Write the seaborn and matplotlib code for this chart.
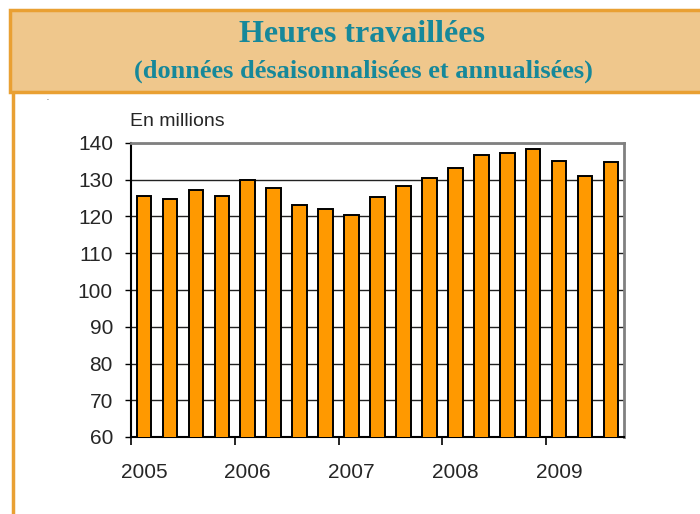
import matplotlib
matplotlib.use("Agg")
import matplotlib.pyplot as plt
from matplotlib.patches import Rectangle
from matplotlib.lines import Line2D
import seaborn as sns
import pandas as pd

quarters = ["2005T1", "2005T2", "2005T3", "2005T4",
            "2006T1", "2006T2", "2006T3", "2006T4",
            "2007T1", "2007T2", "2007T3", "2007T4",
            "2008T1", "2008T2", "2008T3", "2008T4",
            "2009T1", "2009T2", "2009T3"]
heures = [125.7, 124.7, 127.3, 125.7,
          129.9, 127.8, 123.1, 122.1,
          120.4, 125.2, 128.4, 130.4,
          133.1, 136.8, 137.3, 138.4,
          135.2, 131.0, 134.7]
year_labels = ["2005", "2006", "2007", "2008", "2009"]
y_ticks = [60, 70, 80, 90, 100, 110, 120, 130, 140]

title = "Heures travaillées"
subtitle = "(données désaisonnalisées et annualisées)"
unit_label = "En millions"

sns.set_theme(style="white")
plt.rcParams['font.family'] = ['Liberation Sans', 'DejaVu Sans']

fig = plt.figure(figsize=(7.0, 5.14), dpi=100)
W, H = 700, 514

# Title box
box_color = "#E9A033"
fill_color = "#EFC78C"
fig.patches.append(Rectangle((10 / W, 1 - 92 / H), 700 / W, 82 / H,
                             transform=fig.transFigure, facecolor=fill_color,
                             edgecolor=box_color, linewidth=2.5, zorder=0))
fig.lines.append(Line2D([13 / W, 13 / W], [0, 1 - 93 / H], transform=fig.transFigure,
                        color=box_color, linewidth=2.5))
fig.text(362 / W, 1 - 34 / H, title, ha="center", va="center",
         family=["Liberation Serif", "DejaVu Serif"], fontweight="bold",
         fontsize=23, color="#16889A")
fig.text(363 / W, 1 - 71 / H, subtitle, ha="center", va="center",
         family=["Liberation Serif", "DejaVu Serif"], fontweight="bold",
         fontsize=19, color="#16889A")
fig.text(47 / W, 1 - 99 / H, ".", ha="center", va="center", fontsize=5, color="black")

ax = fig.add_axes([131 / W, 1 - 437 / H, (624 - 131) / W, (437 - 143) / H])
df = pd.DataFrame({"q": quarters, "v": heures})
sns.barplot(data=df, x="q", y="v", ax=ax, color="#FF9900", width=0.56,
            edgecolor="black", linewidth=1.4, saturation=1, zorder=3)

ax.set_ylim(60, 140)
ax.set_xlim(-0.5, len(quarters) - 0.5)
ax.set_yticks(y_ticks)
ax.set_yticklabels([str(t) for t in y_ticks], fontsize=15)
ax.yaxis.grid(True, color="#222222", linewidth=1.0, zorder=0)
ax.set_axisbelow(True)

# major ticks at year boundaries (no labels), minor ticks for year labels
ax.set_xticks([-0.5, 3.5, 7.5, 11.5, 15.5])
ax.set_xticklabels([])
ax.set_xticks([0, 4, 8, 12, 16], minor=True)
ax.set_xticklabels(year_labels, minor=True, fontsize=15)
ax.tick_params(axis="x", which="major", direction="out", length=6, width=1.2,
               color="black", bottom=True)
ax.tick_params(axis="x", which="minor", length=0, pad=19)
ax.tick_params(axis="y", direction="out", length=4, width=1.0, color="black",
               left=True, pad=9)
ax.set_xlabel("")
ax.set_ylabel("")

for side in ["top", "right"]:
    ax.spines[side].set_visible(True)
    ax.spines[side].set_color("#808080")
    ax.spines[side].set_linewidth(2)
for side in ["left", "bottom"]:
    ax.spines[side].set_color("black")
    ax.spines[side].set_linewidth(1.5)

fig.text(130 / W, 1 - 122 / H, unit_label, ha="left", va="center", fontsize=14)

fig.savefig("out.png", dpi=100)
